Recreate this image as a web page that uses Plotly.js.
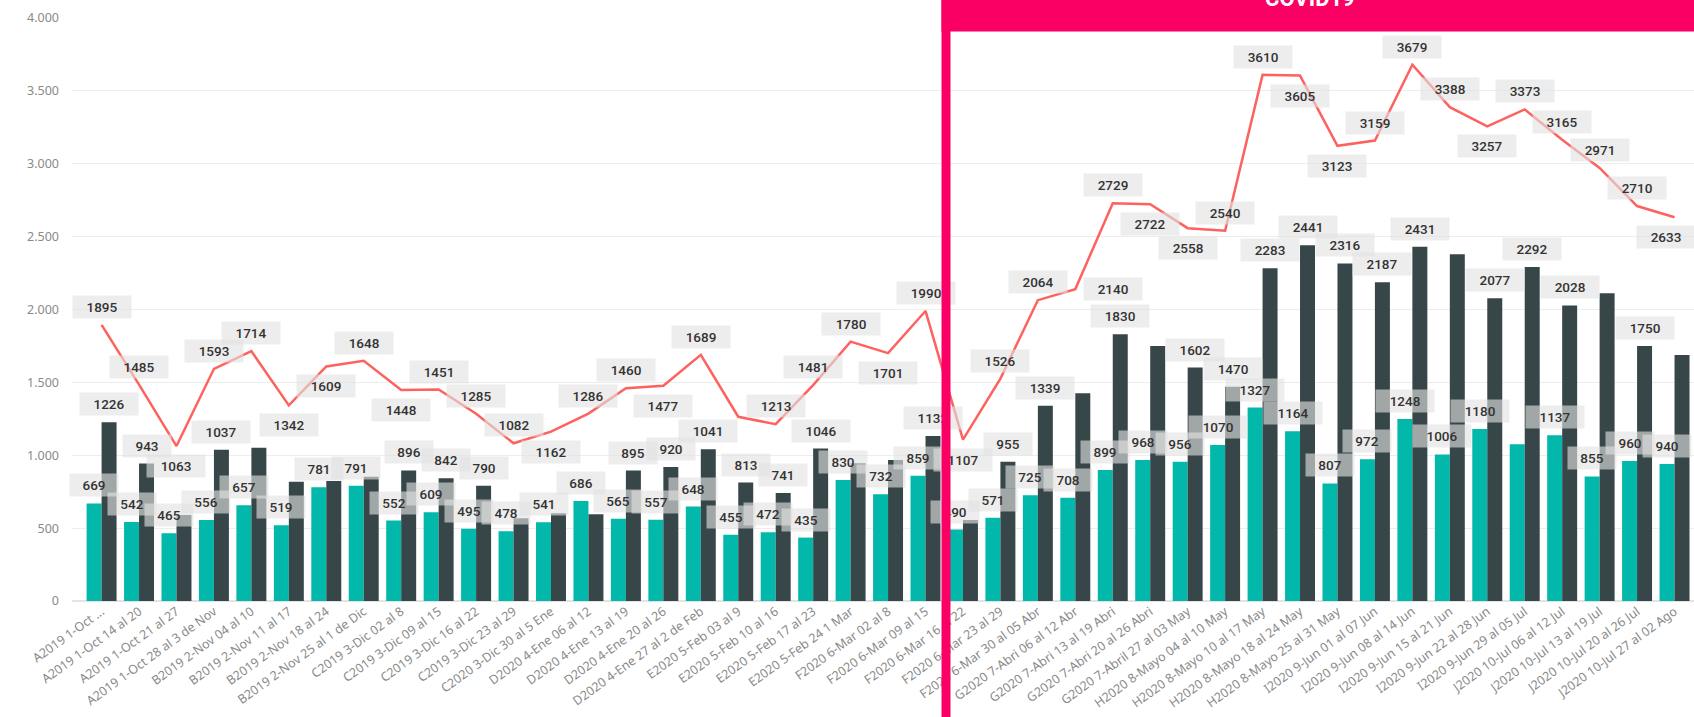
<!DOCTYPE html>
<html>
<head>
<meta charset="utf-8">
<script src="https://cdn.plot.ly/plotly-3.0.1.min.js"></script>
<style>
  html, body { margin: 0; padding: 0; background: #fff; }
  #chart { width: 1694px; height: 717px; }
</style>
</head>
<body>
<div id="chart"></div>
<script>
// semanas (eje X)
const categories = [
    'A2019 1-Oct ...', 'A2019 1-Oct 14 al 20', 'A2019 1-Oct 21 al 27', 'A2019 1-Oct 28 al 3 de Nov',
    'B2019 2-Nov 04 al 10', 'B2019 2-Nov 11 al 17', 'B2019 2-Nov 18 al 24', 'B2019 2-Nov 25 al 1 de Dic',
    'C2019 3-Dic 02 al 8', 'C2019 3-Dic 09 al 15', 'C2019 3-Dic 16 al 22', 'C2019 3-Dic 23 al 29',
    'C2020 3-Dic 30 al 5 Ene', 'D2020 4-Ene 06 al 12', 'D2020 4-Ene 13 al 19', 'D2020 4-Ene 20 al 26',
    'D2020 4-Ene 27 al 2 de Feb', 'E2020 5-Feb 03 al 9', 'E2020 5-Feb 10 al 16', 'E2020 5-Feb 17 al 23',
    'E2020 5-Feb 24 1 Mar', 'F2020 6-Mar 02 al 8', 'F2020 6-Mar 09 al 15', 'F2020 6-Mar 16 al 22',
    'F2020 6-Mar 23 al 29', 'F2020 6-Mar 30 al 05 Abr', 'G2020 7-Abri 06 al 12 Abr', 'G2020 7-Abri 13 al 19 Abri',
    'G2020 7-Abri 20 al 26 Abri', 'G2020 7-Abril 27 al 03 May', 'H2020 8-Mayo 04 al 10 May', 'H2020 8-Mayo 10 al 17 May',
    'H2020 8-Mayo 18 al 24 May', 'H2020 8-Mayo 25 al 31 May', 'I2020 9-Jun 01 al 07 Jun', 'I2020 9-Jun 08 al 14 Jun',
    'I2020 9-Jun 15 al 21 Jun', 'I2020 9-Jun 22 al 28 Jun', 'I2020 9-Jun 29 al 05 Jul', 'J2020 10-Jul 06 al 12 Jul',
    'J2020 10-Jul 13 al 19 Jul', 'J2020 10-Jul 20 al 26 Jul', 'J2020 10-Jul 27 al 02 Ago'
];

// barras verdes
const serieA = [
    669, 542, 465, 556, 657, 519, 781, 791, 552, 609,
    495, 478, 541, 686, 565, 557, 648, 455, 472, 435,
    830, 732, 859, 490, 571, 725, 708, 899, 968, 956,
    1070, 1327, 1164, 807, 972, 1248, 1006, 1180, 1075, 1137,
    855, 960, 940
];

// barras oscuras
const serieB = [
    1226, 943, 590, 1037, 1052, 819, 823, 853, 896, 842,
    790, 567, 602, 595, 895, 920, 1041, 813, 741, 1046,
    945, 967, 1132, 556, 955, 1339, 1425, 1830, 1749, 1602,
    1470, 2283, 2441, 2316, 2187, 2431, 2379, 2077, 2292, 2028,
    2111, 1750, 1688
];

// linea total
const serieTotal = [
    1895, 1485, 1063, 1593, 1714, 1342, 1609, 1648, 1448, 1451,
    1285, 1082, 1162, 1286, 1460, 1477, 1689, 1264, 1213, 1481,
    1780, 1701, 1990, 1107, 1526, 2064, 2140, 2729, 2722, 2558,
    2540, 3610, 3605, 3123, 3159, 3679, 3388, 3257, 3373, 3165,
    2971, 2710, 2633
];

// etiquetas ocultas (como en Power BI) y lado de la etiqueta de la linea
const hiddenA = [38];
const hiddenB = [2, 4, 5, 6, 7, 11, 12, 13, 20, 21, 23, 26, 28, 36, 40, 42];
const lineLabelSide = 'aabaabbaba' + 'aabaaba-aa' + 'ababaarabb' + 'aabbaaabaa' + 'aab';

const W = 1694, H = 717;
const margin = { l: 72, r: 0, t: 18, b: 116 };
const xRange = [-0.79, 42.52];
const bargap = 0.2;
const pink = '#FA0064';

const plotW = W - margin.l - margin.r;
const plotH = H - margin.t - margin.b;
const pxPerCat = plotW / (xRange[1] - xRange[0]);
const barOffset = pxPerCat * (1 - bargap) / 4;

const idx = categories.map((_, i) => i);

const traces = [
    {
        x: idx, y: serieA, type: 'bar', name: 'Serie A',
        marker: { color: '#01B8AA' }, hoverinfo: 'y'
    },
    {
        x: idx, y: serieB, type: 'bar', name: 'Serie B',
        marker: { color: '#374649' }, hoverinfo: 'y'
    },
    {
        x: idx, y: serieTotal, type: 'scatter', mode: 'lines', name: 'Total',
        line: { color: '#FD625E', width: 2.5 }, hoverinfo: 'y'
    }
];

// etiqueta con fondo gris
function makeLabel(i, value, xshift, yshift) {
    const txt = String(value);
    const w = 16 + 10 * txt.length;
    const center = margin.l + (i - xRange[0]) * pxPerCat + xshift;
    if (center + w / 2 > W) xshift -= center + w / 2 - W;
    return {
        x: i, y: value, xref: 'x', yref: 'y',
        text: txt, showarrow: false,
        xshift: xshift, yshift: yshift,
        width: w, height: 20, borderpad: 1,
        bgcolor: 'rgba(226,226,226,0.62)',
        font: { family: 'Roboto, DejaVu Sans', size: 13.5, color: '#333', weight: 500 }
    };
}

const annotations = [];
serieA.forEach((v, i) => {
    if (!hiddenA.includes(i)) annotations.push(makeLabel(i, v, -barOffset, 18));
});
serieB.forEach((v, i) => {
    if (!hiddenB.includes(i)) annotations.push(makeLabel(i, v, barOffset, 18));
});
serieTotal.forEach((v, i) => {
    const side = lineLabelSide[i];
    if (side === 'a') annotations.push(makeLabel(i, v, 0, 18));
    else if (side === 'b') annotations.push(makeLabel(i, v, 0, -20));
    else if (side === 'r') annotations.push(makeLabel(i, v, pxPerCat, 0));
});

// recuadro COVID19 (encima de todo)
const px2paperX = px => (px - margin.l) / plotW;
const px2paperY = py => (H - margin.b - py) / plotH;
const boxLeft = 940.5;

annotations.push({
    xref: 'paper', yref: 'paper', x: px2paperX(boxLeft), y: px2paperY(32),
    xanchor: 'left', yanchor: 'bottom', text: ' ', showarrow: false,
    width: 800, height: 60, borderpad: 0, bgcolor: pink
});
annotations.push({
    xref: 'paper', yref: 'paper', x: px2paperX(boxLeft), y: px2paperY(-20),
    xanchor: 'left', yanchor: 'top', text: ' ', showarrow: false,
    width: 8, height: 760, borderpad: 0, bgcolor: pink
});
annotations.push({
    xref: 'paper', yref: 'paper', x: px2paperX(1310), y: px2paperY(-1),
    xanchor: 'center', yanchor: 'middle', text: '<b>COVID19</b>', showarrow: false,
    font: { family: 'Roboto, DejaVu Sans', size: 22, color: '#fff' }
});

const layout = {
    width: W, height: H,
    margin: margin,
    paper_bgcolor: '#fff', plot_bgcolor: '#fff',
    showlegend: false,
    barmode: 'group', bargap: bargap, bargroupgap: 0,
    separators: ',.',
    font: { family: 'Segoe UI, Noto Sans, Open Sans, sans-serif', color: '#808080' },
    xaxis: {
        range: xRange,
        tickmode: 'array', tickvals: idx, ticktext: categories,
        tickangle: -36, tickfont: { size: 12.5, color: '#8a8a8a' },
        showgrid: false, zeroline: false, showline: false, ticks: '',
        automargin: false, fixedrange: true
    },
    yaxis: {
        range: [0, 4000], dtick: 500, tickformat: ',',
        tickfont: { size: 12.5, color: '#8a8a8a' },
        gridcolor: '#EDEDED', gridwidth: 1,
        zeroline: true, zerolinecolor: '#E3E3E3', zerolinewidth: 1.5,
        ticks: '', ticklabelstandoff: 12,
        automargin: false, fixedrange: true
    },
    annotations: annotations
};

Plotly.newPlot('chart', traces, layout, { displayModeBar: false, staticPlot: true });
</script>
</body>
</html>
